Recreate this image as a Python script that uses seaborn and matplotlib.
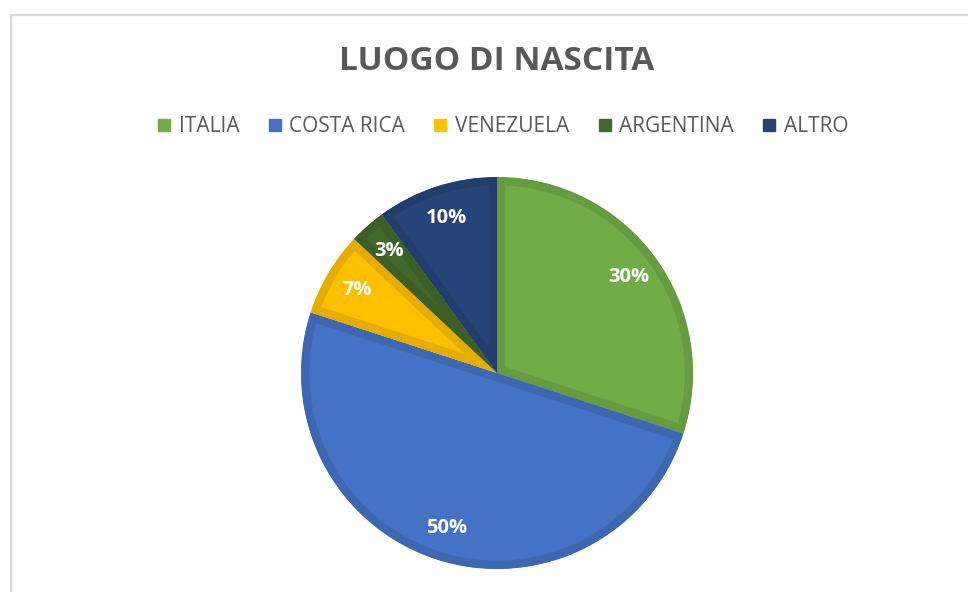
import matplotlib
matplotlib.use("Agg")
import matplotlib.pyplot as plt
import seaborn as sns
from matplotlib.lines import Line2D
import matplotlib.colors as mcolors

# ---- data ----
categories = ["ITALIA", "COSTA RICA", "VENEZUELA", "ARGENTINA", "ALTRO"]
values = [30, 50, 7, 3, 10]
colors = ["#70AD47", "#4472C4", "#FFC000", "#43682B", "#264478"]
title = "LUOGO DI NASCITA"

sns.set_theme(style="white")
plt.rcParams["font.family"] = ["Open Sans", "DejaVu Sans"]

W, H, DPI = 968, 592, 100
fig = plt.figure(figsize=(W / DPI, H / DPI), dpi=DPI)
fig.patch.set_facecolor("white")

# chart frame (light gray, top and left visible)
fig.add_artist(Line2D([10.5 / W, 1.0], [1 - 14.5 / H, 1 - 14.5 / H],
                      transform=fig.transFigure, color="#d9d9d9", lw=1.6))
fig.add_artist(Line2D([10.5 / W, 10.5 / W], [0.0, 1 - 14.5 / H],
                      transform=fig.transFigure, color="#d9d9d9", lw=1.6))

# pie axes
cx, cy, r = 497, 373, 196
ax = fig.add_axes([(cx - r) / W, (H - cy - r) / H, 2 * r / W, 2 * r / H])

wedges, _, autotexts = ax.pie(
    values, colors=colors, startangle=90, counterclock=False,
    autopct="%1.0f%%", pctdistance=0.83, radius=1.0,
    textprops=dict(color="white", fontsize=14.5, fontweight="bold"),
)
ax.set_xlim(-1, 1)
ax.set_ylim(-1, 1)
ax.set_aspect("equal")
ax.axis("off")

def darker(c, f=0.9):
    rgb = mcolors.to_rgb(c)
    return tuple(v * f for v in rgb)

for w, c in zip(wedges, colors):
    w.set_edgecolor(darker(c, 0.9))
    w.set_linewidth(12)
    w.set_joinstyle("round")
    w.set_clip_on(True)
    w.set_clip_path(w)

# title
fig.text(cx / W, 1 - 62 / H, title, ha="center", va="center",
         fontsize=24, fontweight="bold", color="#595959")

# legend
handles = [Line2D([0], [0], marker="s", linestyle="none", markersize=8,
                  markerfacecolor=c, markeredgecolor=c) for c in colors]
fig.legend(handles, categories, loc="center", bbox_to_anchor=(502 / W, 1 - 127 / H),
           ncol=5, frameon=False, fontsize=15, labelcolor="#595959",
           handletextpad=0.3, columnspacing=1.3, handlelength=0.8)

fig.savefig("out.png", dpi=DPI, facecolor="white")
